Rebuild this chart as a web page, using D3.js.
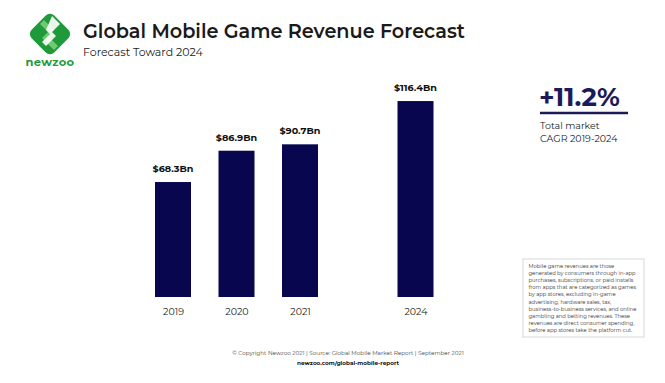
<!DOCTYPE html>
<html><head><meta charset="utf-8">
<script src="https://cdn.jsdelivr.net/npm/d3@7"></script>
<style>body{margin:0;background:#fff}svg{display:block}text{font-family:Montserrat,"Open Sans","Noto Sans",sans-serif}</style>
</head><body><svg id="c" width="665" height="383"></svg>
<script>
const years = [2019, 2020, 2021, 2024];
const revenue = [68.3, 86.9, 90.7, 116.4];
const valueLabels = ["$68.3Bn", "$86.9Bn", "$90.7Bn", "$116.4Bn"];
const title = "Global Mobile Game Revenue Forecast";
const subtitle = "Forecast Toward 2024";
const cagr = "+11.2%";
const cagrLines = ["Total market", "CAGR 2019-2024"];
const noteLines = ["Mobile game revenues are those","generated by consumers through in-app","purchases, subscriptions, or paid installs","from apps that are categorized as games","by app stores, excluding in-game","advertising, hardware sales, tax,","business-to-business services, and online","gambling and betting revenues. These","revenues are direct consumer spending,","before app stores take the platform cut."];
const footer = "© Copyright Newzoo 2021 | Source: Global Mobile Market Report | September 2021";
const footerUrl = "newzoo.com/global-mobile-report";

const navy = "#07064f", green = "#1f9a3a";
const svg = d3.select("#c");

// Logo
const logo = svg.append("g").attr("transform","translate(50,34)");
logo.append("rect").attr("x",-16).attr("y",-16).attr("width",32).attr("height",32).attr("rx",6)
  .attr("transform","rotate(45)").attr("fill", green);
logo.append("path").attr("d","M-6,-14 L4,-4 L-2,2 L8,12 L4,16 L-8,4 L-2,-2 L-10,-10 Z").attr("fill","#7fd27a").attr("opacity",0.85);
logo.append("path").attr("d","M2,-18 L10,-10 L2,-2 L6,2 L-4,12 L-8,8 L0,0 L-4,-4 Z").attr("fill","#fff").attr("opacity",0.9);
svg.append("text").attr("x",50).attr("y",66).attr("text-anchor","middle").attr("font-size",11.5)
  .attr("font-weight",700).attr("fill",green).attr("letter-spacing",0.3).text("newzoo");

svg.append("text").attr("x",83).attr("y",38).attr("font-size",19.5).attr("font-weight",600)
  .attr("fill","#1a1a1a").attr("textLength",382).attr("lengthAdjust","spacingAndGlyphs").text(title);
svg.append("text").attr("x",83).attr("y",56).attr("font-size",11).attr("fill","#222").text(subtitle);

// Chart
const x = d3.scaleLinear().domain([2019, 2021, 2024]).range([173, 300, 415.5]);
const y = d3.scaleLinear().domain([0, 120]).range([297, 95]);
const bw = 36;

svg.append("g").selectAll("rect").data(years).join("rect")
  .attr("x", d => x(d) - bw/2).attr("width", bw)
  .attr("y", (d,i) => y(revenue[i])).attr("height", (d,i) => y(0) - y(revenue[i]))
  .attr("fill", navy);

svg.append("g").selectAll("text").data(years).join("text")
  .attr("x", d => x(d)).attr("y", (d,i) => y(revenue[i]) - 10)
  .attr("text-anchor","middle").attr("font-size",9.6).attr("font-weight",700).attr("fill","#111")
  .text((d,i) => valueLabels[i]);

const xAxis = d3.axisBottom(x).tickValues(years).tickFormat(d3.format("d")).tickSize(0).tickPadding(11);
const ax = svg.append("g").attr("transform",`translate(0,${y(0)})`).call(xAxis);
ax.select(".domain").remove();
ax.selectAll("text").attr("font-size",9.5).attr("fill","#222")
  .style("font-family",'Montserrat,"Open Sans","Noto Sans",sans-serif');

// CAGR
svg.append("text").attr("x",539).attr("y",106).attr("font-size",26).attr("font-weight",700)
  .attr("fill","#1d1a5a").text(cagr);
svg.append("line").attr("x1",540).attr("x2",628).attr("y1",113).attr("y2",113)
  .attr("stroke","#1d1a5a").attr("stroke-width",2.5);
svg.append("g").selectAll("text").data(cagrLines).join("text")
  .attr("x",540).attr("y",(d,i)=>129+i*13).attr("font-size",9.5).attr("fill","#222").text(d=>d);

// Note box
svg.append("rect").attr("x",523).attr("y",259).attr("width",121).attr("height",78)
  .attr("fill","#fff").attr("stroke","#d8d8d8").attr("stroke-width",1);
svg.append("g").selectAll("text").data(noteLines).join("text")
  .attr("x",528.5).attr("y",(d,i)=>268+i*7.1).attr("font-size",5.25).attr("fill","#333").text(d=>d);

// Footer
svg.append("text").attr("x",348).attr("y",355).attr("text-anchor","middle").attr("font-size",5.7)
  .attr("fill","#444").text(footer);
svg.append("text").attr("x",348).attr("y",365).attr("text-anchor","middle").attr("font-size",5.7)
  .attr("font-weight",700).attr("fill","#111").text(footerUrl);
</script></body></html>
